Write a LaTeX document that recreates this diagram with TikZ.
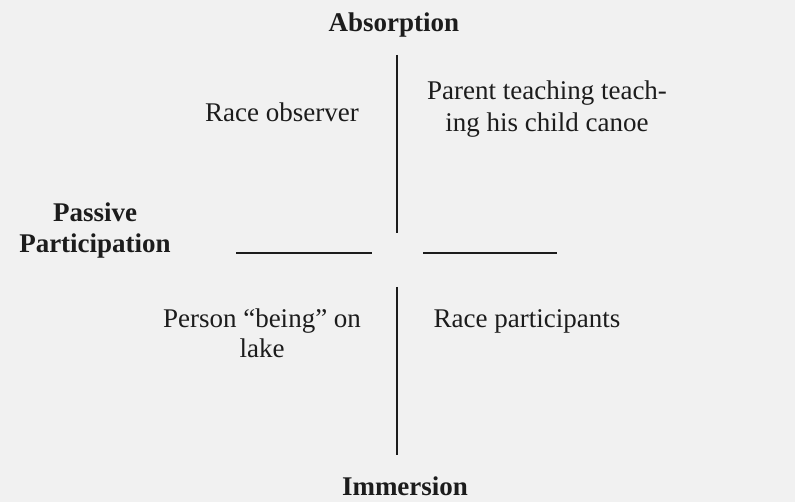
\documentclass[tikz,border=0pt]{standalone}
\usepackage{fontspec}
\setmainfont{Liberation Serif}
\definecolor{paper}{HTML}{F1F1F1}
\definecolor{ink}{HTML}{1C1C1C}
\tikzset{
  lbl/.style={inner sep=0pt, anchor=base, text=ink, font=\fontsize{27}{31}\selectfont, align=center},
  head/.style={lbl, font=\fontsize{27}{31}\selectfont\bfseries},
  axis/.style={draw=ink, line width=2pt}
}
\begin{document}
\begin{tikzpicture}[x=1pt,y=-1pt]
\fill[paper] (0,0) rectangle (795,502);
\useasboundingbox (0,0) rectangle (795,502);
% axes
\coordinate (vt1) at (397,55);
\coordinate (vt2) at (397,233);
\coordinate (vb1) at (397,287);
\coordinate (vb2) at (397,455);
\coordinate (hl1) at (236,253);
\coordinate (hl2) at (372,253);
\coordinate (hr1) at (423,253);
\coordinate (hr2) at (557,253);
\draw[axis] (vt1) -- (vt2);
\draw[axis] (vb1) -- (vb2);
\draw[axis] (hl1) -- (hl2);
\draw[axis] (hr1) -- (hr2);
% headings
\node[head] (absorp) at (394,32) {Absorption};
\node[head] (immers) at (405,495) {Immersion};
\node[head] (passive) at (95,253) {Passive\\Participation};
% quadrants
\node[lbl] (raceobs) at (282,122) {Race observer};
\node[lbl, font=\fontsize{27}{32}\selectfont] (parent) at (547,132) {Parent teaching teach-\\ing his child canoe};
\node[lbl, font=\fontsize{27}{30}\selectfont] (person) at (262,358) {Person “being” on\\lake};
\node[lbl] (racepart) at (527,328) {Race participants};
\end{tikzpicture}
\end{document}
